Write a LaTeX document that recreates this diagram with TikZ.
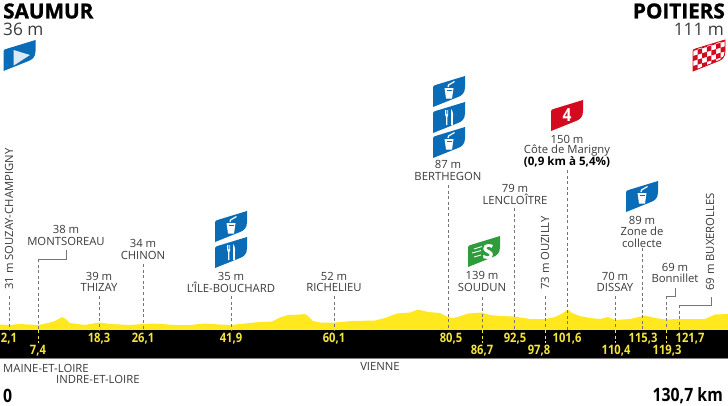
\documentclass[tikz,border=0pt]{standalone}
\usepackage{fontspec}
\setmainfont{Open Sans}
\newfontfamily\numf[FakeStretch=0.86]{Open Sans}
\newfontfamily\heavyf[FakeBold=1.2]{Open Sans}
\definecolor{tfblue}{HTML}{0A6CB6}
\definecolor{tfred}{HTML}{D40A1E}
\definecolor{tfgreen}{HTML}{2F9C3B}
\definecolor{tfyellow}{HTML}{FFE91E}
\definecolor{numyellow}{HTML}{F3E53C}
\definecolor{ink}{HTML}{3A3A3A}
\tikzset{
  x=1pt,y=-1pt,
  lab/.style={font=\fontsize{11.3}{11.3}\selectfont,text=ink,inner sep=0pt,anchor=center},
  labb/.style={lab,font=\fontsize{11.6}{11.6}\selectfont\bfseries,text=black},
  vlab/.style={lab,rotate=90,anchor=west},
  num/.style={font=\fontsize{13}{13}\selectfont\numf\bfseries,text=numyellow,inner sep=0pt,anchor=center},
  leader/.style={draw=ink!70,line width=0.55pt,dash pattern=on 3pt off 2.6pt},
  leaderb/.style={draw=numyellow,line width=0.6pt,dash pattern=on 3pt off 2.6pt},
  elbow/.style={draw=ink!70,line width=0.6pt},
  big/.style={font=\fontsize{18.4}{18.4}\selectfont\numf\bfseries,text=black,inner sep=0pt},
  iconbody/.pic={
    \path[pic actions] (0,0) -- (0,-19.5) .. controls (0,-21) and (1,-21.6) .. (2.5,-22)
      -- (32,-31) -- (32,-20) .. controls (32,-14) and (29,-11.5) .. (25,-10) -- cycle;
  },
  cupicon/.pic={
    \pic[fill=tfblue] {iconbody};
    \fill[white] (11.5,-19) -- (20.5,-19) -- (19,-8.5) -- (13,-8.5) -- cycle;
    \fill[tfblue] (13.5,-17.3) rectangle (18.5,-16.6);
    \draw[white,line width=1.2pt] (15,-20) -- (15.5,-22) -- (21.5,-25.5);
  },
  forkicon/.pic={
    \pic[fill=tfblue] {iconbody};
    \fill[white] (12.2,-23) -- (15.2,-23) -- (15.2,-18) -- (14.4,-16) -- (14.4,-8) -- (13,-8) -- (13,-16) -- (12.2,-18) -- cycle;
    \fill[tfblue] (13.2,-23) rectangle (13.6,-19) (14.0,-23) rectangle (14.4,-19);
    \fill[white] (18,-24) .. controls (20,-22) and (20.5,-18) .. (19.8,-15.5) -- (19.8,-8) -- (18,-8) -- cycle;
  },
}
\begin{document}
\begin{tikzpicture}
\useasboundingbox (0,0) rectangle (728,405);
% profile
\fill[tfyellow] (0,330) -- (0,324.5) -- (9,325) -- (20,324) -- (38,325) -- (48,323) -- (55,321) -- (62,317) -- (66,319) -- (70,323) -- (85,325) -- (99,322.5) -- (110,324) -- (130,325) -- (143,324) -- (155,323.5) -- (175,325) -- (190,325) -- (205,323.5) -- (220,324.5) -- (231,325) -- (240,324) -- (260,322) -- (272,321.5) -- (280,317.5) -- (288,315) -- (300,314.5) -- (305,314) -- (308,316) -- (313,321) -- (320,322.5) -- (335,322.5) -- (352,321) -- (375,320.5) -- (385,318) -- (397,313.5) -- (410,312.5) -- (418,309.5) -- (428,312) -- (440,313) -- (448,317) -- (452,318) -- (458,317) -- (468,313.5) -- (482,312.5) -- (490,315) -- (500,316) -- (514,316.5) -- (530,319) -- (545,319) -- (555,317) -- (563,313) -- (568,309.5) -- (572,313) -- (580,316) -- (590,318) -- (600,319) -- (608,317) -- (615,320) -- (630,319) -- (645,315.5) -- (655,318) -- (665,319.5) -- (680,319) -- (695,319) -- (705,319) -- (715,314.5) -- (728,314) -- (728,330) -- cycle;
% band
\fill[black] (0,330) rectangle (728,358);
\draw[gray,line width=0.4pt] (0,358.2) -- (728,358.2);
% leaders
\foreach \n/\x/\t in {a/9/296,b/38/259,c/99/296,d/143/264,e/231/296,f/334/296,g/448/185,h/482/297,i/514/208,j/545/296,k/567/170,l/615/296,m/642/248,n/666/296,o/679/305}{
  \coordinate (top\n) at (\x,\t);
  \coordinate (foot\n) at (\x,330);
  \draw[leader] (top\n) -- (foot\n);
}
\foreach \n/\x in {b/38,h/482,j/545,l/615,n/666}{
  \coordinate (low\n) at (\x,343);
  \draw[leaderb] (foot\n) -- (low\n);
}
% elbows
\coordinate (ebm) at (66,259); \coordinate (ebe) at (66,250);
\draw[elbow] (topb) -- (ebm) -- (ebe);
\coordinate (enm) at (675,296); \coordinate (ene) at (675,288);
\draw[elbow] (topn) -- (enm) -- (ene);
\coordinate (eom) at (711,305); \coordinate (eoe) at (711,297);
\draw[elbow] (topo) -- (eom) -- (eoe);
% distances
\foreach \n/\x/\y/\v in {n1/9/338.5/{2,1},n2/38/351/{7,4},n3/99/338.5/{18,3},n4/143/338.5/{26,1},n5/231/338.5/{41,9},n6/334/338.5/{60,1},n7/451/338.5/{80,5},n8/482/351/{86,7},n9/515/338.5/{92,5},n10/539/351/{97,8},n11/567/338.5/{101,6},n12/616/351/{110,4},n13/643/338.5/{115,3},n14/667/351/{119,3},n15/690/338.5/{121,7}}{
  \node[num] (\n) at (\x,\y) {\v};
}
% titles
\node[font=\fontsize{20.7}{20.7}\selectfont\heavyf\bfseries,text=black,inner sep=0pt,anchor=west] (saumur) at (3,11) {SAUMUR};
\node[font=\fontsize{17.2}{17.2}\selectfont,text=ink,inner sep=0pt,anchor=west] (alt1) at (3,29) {36 m};
\node[font=\fontsize{20.7}{20.7}\selectfont\heavyf\bfseries,text=black,inner sep=0pt,anchor=east] (poitiers) at (725,11) {POITIERS};
\node[font=\fontsize{17.2}{17.2}\selectfont,text=ink,inner sep=0pt,anchor=east] (alt2) at (724,29) {111 m};
% labels
\foreach \n/\x/\y/\v in {l1/66/229/38 m,l2/66/241/MONTSOREAU,l3/143/243/34 m,l4/143/255/CHINON,l5/99/276/39 m,l6/99/287/THIZAY,l7/231/276/35 m,l8/231/287/L'ÎLE-BOUCHARD,l9/334/276/52 m,l10/334/287/RICHELIEU,l11/448/164/87 m,l12/448/176/BERTHEGON,l13/515/188/79 m,l14/515/199/LENCLOÎTRE,l15/482/275/139 m,l16/482/287/SOUDUN,l17/567/139/150 m,l18/567/151/Côte de Marigny,l19/615/276/70 m,l20/615/287/DISSAY,l21/642/220/89 m,l22/642/231/Zone de,l23/642/243/collecte,l24/675/267/69 m,l25/675/278/Bonnillet,l26/380/366/VIENNE}{
  \node[lab] (\n) at (\x,\y) {\v};
}
\node[labb] (l27) at (567,162) {(0,9 km à 5,4\%)};
\node[lab,anchor=west] (dep1) at (3,368) {MAINE-ET-LOIRE};
\node[lab,anchor=west] (dep2) at (56,379) {INDRE-ET-LOIRE};
% rotated labels
\node[vlab] (v1) at (9,290) {31 m SOUZAY-CHAMPIGNY};
\node[vlab] (v2) at (545,290) {73 m OUZILLY};
\node[vlab] (v3) at (710,291) {69 m BUXEROLLES};
% ends
\node[big,anchor=west] (zero) at (3,395.5) {0};
\node[big,anchor=east] (total) at (723,395.5) {130,7 km};
% icons
\begin{scope}[shift={(3.5,71)}]
  \path[fill=tfblue] (0,0) -- (0,-19.5) .. controls (0,-21) and (1,-21.6) .. (2.5,-22) -- (32,-31) -- (32,-20) .. controls (32,-14) and (29,-11.5) .. (25,-10) -- cycle;
  \fill[white!85!tfblue] (10,-5.3) -- (10,-21) -- (26.5,-16) -- cycle;
\end{scope}
\pic at (215,242) {cupicon};
\pic at (215,268) {forkicon};
\pic at (433,107) {cupicon};
\pic at (433,133) {forkicon};
\pic at (433,158) {cupicon};
\pic at (626,212) {cupicon};
% climb
\begin{scope}[shift={(551,131)}]
  \path[fill=tfred] (0,0) -- (0,-19.5) .. controls (0,-21) and (1,-21.6) .. (2.5,-22) -- (32,-31) -- (32,-20) .. controls (32,-14) and (29,-11.5) .. (25,-10) -- cycle;
  \node[font=\fontsize{18}{18}\selectfont\numf\bfseries,text=white,inner sep=0pt] (climb) at (16,-15.5) {4};
\end{scope}
% sprint
\begin{scope}[shift={(468,267)}]
  \path[fill=tfgreen] (0,0) -- (0,-19.5) .. controls (0,-21) and (1,-21.6) .. (2.5,-22) -- (32,-31) -- (32,-20) .. controls (32,-14) and (29,-11.5) .. (25,-10) -- cycle;
  \node[font=\fontsize{20}{20}\selectfont\heavyf\bfseries,text=white,inner sep=0pt] (sprint) at (20,-15.5) {S};
  \draw[white,line width=0.9pt] (6,-18) -- (14,-20.5) (4,-14) -- (13,-16.5) (6,-10) -- (13,-12);
\end{scope}
% finish
\begin{scope}[shift={(693,71)}]
  \path[fill=white,draw=tfred,line width=0.9pt] (0,0) -- (0,-19.5) .. controls (0,-21) and (1,-21.6) .. (2.5,-22) -- (32,-31) -- (32,-20) .. controls (32,-14) and (29,-11.5) .. (25,-10) -- cycle;
  \clip (0,0) -- (0,-19.5) .. controls (0,-21) and (1,-21.6) .. (2.5,-22) -- (32,-31) -- (32,-20) .. controls (32,-14) and (29,-11.5) .. (25,-10) -- cycle;
  \foreach \i in {0,...,7}{
    \foreach \j in {0,...,4}{
      \pgfmathparse{int(mod(\i+\j,2))}
      \ifnum\pgfmathresult=0
        \fill[tfred] ({\i*4.6},{-\j*5-\i*4.6*0.3}) -- ({(\i+1)*4.6},{-\j*5-(\i+1)*4.6*0.3}) -- ({(\i+1)*4.6},{-(\j+1)*5-(\i+1)*4.6*0.3}) -- ({\i*4.6},{-(\j+1)*5-\i*4.6*0.3}) -- cycle;
      \fi
    }
  }
\end{scope}
\end{tikzpicture}
\end{document}
